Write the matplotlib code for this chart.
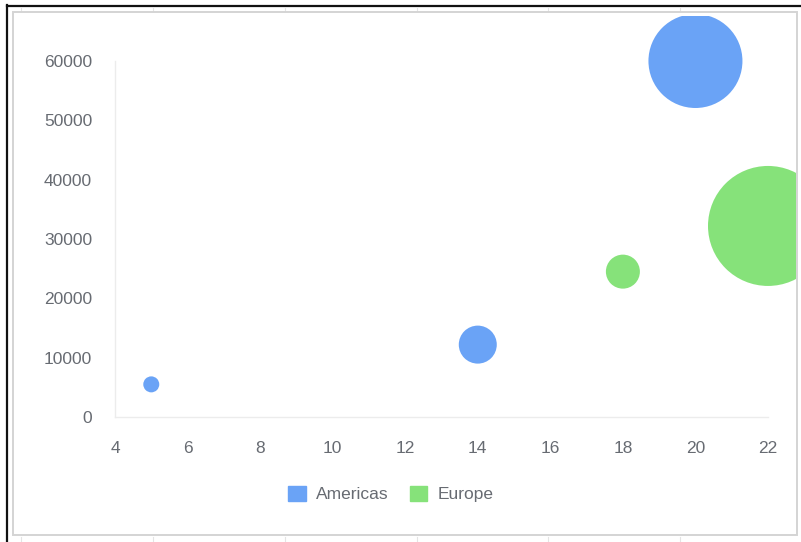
import matplotlib.pyplot as plt
from matplotlib.patches import Rectangle
from matplotlib.lines import Line2D

# data
americas_x = [5, 14, 20]
americas_y = [5500, 12200, 60000]
americas_z = [8, 19, 47]

europe_x = [18, 22]
europe_y = [24500, 32200]
europe_z = [17, 60]

x_ticks = [4, 6, 8, 10, 12, 14, 16, 18, 20, 22]
y_ticks = [0, 10000, 20000, 30000, 40000, 50000, 60000]

blue = '#6aa3f6'
green = '#86e27a'
txt = '#676b72'

W, H = 801, 542
plt.rcParams['font.family'] = ['Liberation Sans', 'DejaVu Sans']

fig = plt.figure(figsize=(W / 100, H / 100), dpi=100)

def fx(px):
    return px / W

def fy(py):
    return 1 - py / H

# spreadsheet-ish frame around the chart
fig.add_artist(Line2D([fx(7), fx(7)], [fy(5), 0], color='#111111', lw=1.6, zorder=-5))
fig.add_artist(Line2D([fx(7), 1], [fy(6), fy(6)], color='#111111', lw=1.6, zorder=-5))
for gx in [21, 153, 285, 417, 548, 680]:
    fig.add_artist(Line2D([fx(gx), fx(gx)], [fy(8), fy(12)], color='#e4e4e4', lw=0.8, zorder=-5))
    fig.add_artist(Line2D([fx(gx), fx(gx)], [fy(537), 0], color='#e4e4e4', lw=0.8, zorder=-5))
panel = Rectangle((fx(13), fy(535)), fx(797) - fx(13), fy(12) - fy(535),
                  transform=fig.transFigure, facecolor='white',
                  edgecolor='#d4d4d4', lw=1.4, zorder=-4)
fig.add_artist(panel)
clip = Rectangle((fx(14), fy(534)), fx(796) - fx(14), fy(16) - fy(534),
                 transform=fig.transFigure)

ax = fig.add_axes([fx(115), fy(417), fx(768) - fx(115), fy(61) - fy(417)])
ax.set_facecolor('none')
ax.set_xlim(4, 22)
ax.set_ylim(0, 60000)

def area(z):
    # z is bubble radius in pixels -> marker area in points^2
    return [(2 * r * 0.72) ** 2 for r in z]

s1 = ax.scatter(americas_x, americas_y, s=area(americas_z), color=blue,
                linewidths=0, zorder=3)
s2 = ax.scatter(europe_x, europe_y, s=area(europe_z), color=green,
                linewidths=0, zorder=3)
s1.set_clip_path(clip)
s2.set_clip_path(clip)

for side in ['top', 'right']:
    ax.spines[side].set_visible(False)
for side in ['left', 'bottom']:
    ax.spines[side].set_color('#ececec')
    ax.spines[side].set_linewidth(1.0)

ax.set_xticks(x_ticks)
ax.set_yticks(y_ticks)
ax.tick_params(length=0, labelsize=12.5, labelcolor=txt)
ax.tick_params(axis='x', pad=17)
ax.tick_params(axis='y', pad=16.5)

handles = [Rectangle((0, 0), 1, 1, color=blue), Rectangle((0, 0), 1, 1, color=green)]
fig.legend(handles, ['Americas', 'Europe'], loc='center',
           bbox_to_anchor=(fx(391), fy(494)), ncol=2, frameon=False,
           fontsize=12.5, labelcolor=txt, handlelength=1.0, handleheight=1.0,
           handletextpad=0.6, columnspacing=1.2)

fig.savefig('out.png', dpi=100)
